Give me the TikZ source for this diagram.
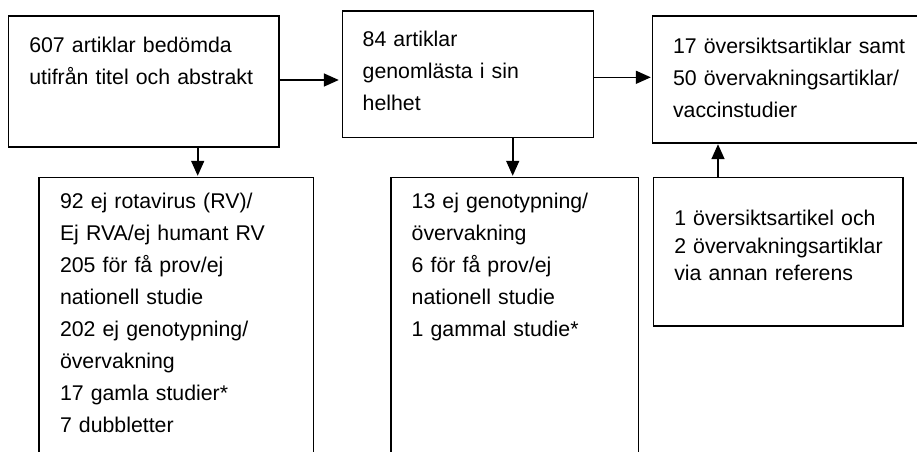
\documentclass[tikz,border=0pt]{standalone}
\usepackage{fontspec}
\setmainfont{Liberation Sans}
\usetikzlibrary{arrows.meta,calc}
\tikzset{
  box/.style={draw=black, line width=1.6pt, rectangle, inner sep=0pt, outer sep=0pt, anchor=north west},
  txt/.style={anchor=base west, inner sep=0pt, outer sep=0pt, align=left, text width=#1,
              font=\fontsize{21.3}{32}\selectfont},
  txt/.default=250pt,
  arr/.style={line width=1.6pt, -{Triangle[length=15pt,width=13pt]}, shorten >=1.5pt}
}
\begin{document}
\begin{tikzpicture}[x=1pt,y=-1pt]
\useasboundingbox (0,0) rectangle (917,451);
\clip (0,0) rectangle (917,451);
\fill[white] (0,0) rectangle (917,451);
% boxes
\node[box, minimum width=270.4pt, minimum height=131pt] (A) at (8.3,15.7) {};
\node[box, minimum width=251pt, minimum height=126.3pt] (B) at (342.3,11) {};
\node[box, minimum width=280pt, minimum height=127pt] (C) at (652.3,15.7) {};
\node[box, minimum width=274.3pt, minimum height=300pt] (D) at (39,177.3) {};
\node[box, minimum width=247.3pt, minimum height=300pt] (E) at (391,177.3) {};
\node[box, minimum width=249.4pt, minimum height=148.4pt] (F) at (653.3,177.3) {};
% texts
\node[txt] (tA) at (29.3,52.7) {607 artiklar bedömda\\utifrån titel och abstrakt};
\node[txt] (tB) at (362.7,46.7) {84 artiklar\\genomlästa i sin\\helhet};
\node[txt] (tC) at (673,53) {17 översiktsartiklar samt\\50 övervakningsartiklar/\\vaccinstudier};
\node[txt] (tD) at (60,208.3) {92 ej rotavirus (RV)/\\Ej RVA/ej humant RV\\205 för få prov/ej\\nationell studie\\202 ej genotypning/\\övervakning\\17 gamla studier*\\7 dubbletter};
\node[txt] (tE) at (411.7,208.3) {13 ej genotypning/\\övervakning\\6 för få prov/ej\\nationell studie\\1 gammal studie*};
\node[txt, font=\fontsize{21.3}{27.5}\selectfont] (tF) at (674.3,225.7) {1 översiktsartikel och\\2 övervakningsartiklar\\via annan referens};
% connectors
\draw[arr, shorten >=3.5pt] (A.east |- 0,80) -- (B.west |- 0,80);
\draw[arr] (B.east |- 0,77.3) -- (C.west |- 0,77.3);
\draw[arr] (A.south -| 197.7,0) -- (D.north -| 197.7,0);
\draw[arr] (B.south -| 512.7,0) -- (E.north -| 512.7,0);
\draw[arr] (F.north -| 718,0) -- (C.south -| 718,0);
\end{tikzpicture}
\end{document}
